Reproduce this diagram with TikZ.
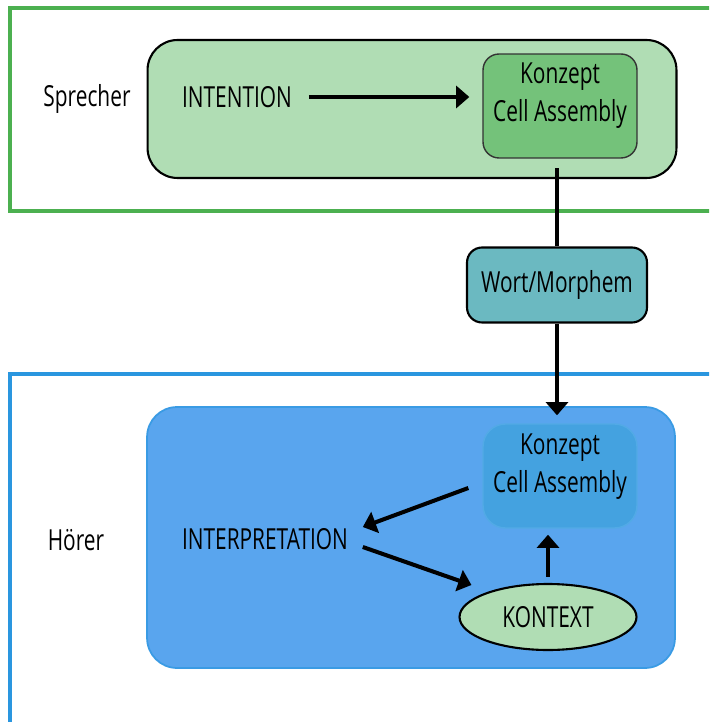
\documentclass[tikz,border=0pt]{standalone}
\usepackage{fontspec}
\setmainfont{Open Sans}[FakeStretch=0.72]
\usepackage{tikz}
\usetikzlibrary{arrows.meta,calc,shapes.geometric}

\definecolor{sprframe}{RGB}{76,176,80}
\definecolor{lightgreen}{RGB}{176,221,180}
\definecolor{konzgreen}{RGB}{116,194,122}
\definecolor{wortteal}{RGB}{107,185,193}
\definecolor{hoerframe}{RGB}{42,150,223}
\definecolor{hoerfill}{RGB}{89,165,238}
\definecolor{hoeredge}{RGB}{58,155,228}
\definecolor{konzblue}{RGB}{68,162,224}
\definecolor{konzedge}{RGB}{82,170,230}

\tikzstyle{arrow} = [line width=2.3pt,-{Triangle[width=12.5pt,length=7.5pt]}]
\tikzstyle{plainline} = [line width=2.3pt]
\tikzstyle{frame} = [line width=1.8pt]
\tikzstyle{lbl} = [font=\fontsize{16.5}{21.5}\selectfont, align=center, inner sep=2pt]
\tikzstyle{bigbox} = [rounded corners=0.6cm, minimum width=10.58cm, minimum height=2.76cm]
\tikzstyle{konzbox} = [minimum width=3.08cm, minimum height=2.08cm]

\begin{document}
\begin{tikzpicture}[x=0.02cm, y=-0.02cm]
    \fill[white] (0,0) rectangle (709,722);
    \clip (0,0) rectangle (709,722);

    % Sprecher
    \draw[frame, draw=sprframe] (10,8) rectangle (730,211);
    \node[lbl] (sprecher) at (87,99) {Sprecher};
    \node[bigbox, draw=black, line width=1.2pt, fill=lightgreen] (spbox) at (412,109) {};
    \node[lbl] (intention) at (237,97) {INTENTION};
    \node[konzbox, rounded corners=0.32cm, draw=black!80, line width=0.8pt, fill=konzgreen] (konzA) at (560,106) {};
    \node[lbl] (konzAtext) at (560,96) {Konzept\\Cell Assembly};
    \draw[arrow, shorten <=0.26cm, shorten >=0.26cm] (intention.east) -- (intention.east -| konzA.west);

    % Wort
    \node[lbl, rounded corners=0.3cm, draw=black, line width=1.2pt, fill=wortteal,
          minimum width=3.6cm, minimum height=1.5cm] (wort) at (557,285) {Wort/Morphem};
    \draw[plainline, shorten >=0.18cm] (wort.north) -- (wort.north |- konzA.south);

    % Hoerer
    \draw[frame, draw=hoerframe] (10,374) rectangle (730,740);
    \node[lbl] (hoerer) at (76,540) {Hörer};
    \node[rounded corners=0.6cm, draw=hoeredge, line width=1pt, fill=hoerfill,
          minimum width=10.56cm, minimum height=5.22cm] (hbox) at (411,537.5) {};
    \node[konzbox, rounded corners=0.45cm, draw=konzedge, line width=0.8pt, fill=konzblue] (konzB) at (560,476) {};
    \node[lbl] (konzBtext) at (560,467) {Konzept\\Cell Assembly};
    \node[lbl] (interp) at (265,539) {INTERPRETATION};
    \node[lbl, ellipse, draw=black, line width=1.2pt, fill=lightgreen,
          minimum width=3.54cm, minimum height=1.32cm] (kontext) at (548,617) {KONTEXT};

    \draw[arrow, shorten >=0.16cm] (wort.south) -- (wort.south |- konzB.north);
    \draw[arrow] ($(konzB.west)+(-14,12)$) -- ($(interp.east)+(11,-12)$);
    \draw[arrow] ($(interp.east)+(11,8)$) -- ($(kontext.west)+(13,-32)$);
    \draw[arrow, shorten <=0.12cm, shorten >=0.12cm] (kontext.north) -- (kontext.north |- konzB.south);
\end{tikzpicture}
\end{document}
